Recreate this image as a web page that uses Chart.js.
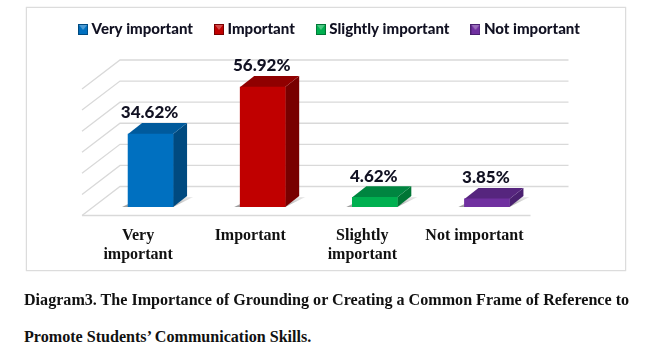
<!DOCTYPE html>
<html>
<head>
<meta charset="utf-8">
<script src="https://cdn.jsdelivr.net/npm/chart.js@4/dist/chart.umd.min.js"></script>
<style>
    html, body { margin: 0; padding: 0; background: #fff; }
    #frame { position: absolute; left: 26px; top: 7px; width: 598px; height: 262px; border: 1px solid #dcdcdc; box-shadow: 0 0 1px #ccc; }
    #chart { position: absolute; left: 0; top: 0; }
    .caption { position: absolute; left: 24px; font: bold 16.1px "Liberation Serif", serif; color: #111; white-space: nowrap; }
    #cap1 { top: 291px; }
    #cap2 { top: 328px; }
</style>
</head>
<body>
<div id="frame"></div>
<canvas id="chart" width="651" height="300"></canvas>
<div class="caption" id="cap1">Diagram3. The Importance of Grounding or Creating a Common Frame of Reference to</div>
<div class="caption" id="cap2">Promote Students’ Communication Skills.</div>
<script>
const legendNames = ["Very important", "Important", "Slightly important", "Not important"];
const axisLabels = [["Very", "important"], "Important", ["Slightly", "important"], "Not important"];
const percentValues = [34.62, 56.92, 4.62, 3.85];
const frontColors = ["#0070c0", "#c00000", "#00b050", "#7030a0"];
const sideColors = ["#004a80", "#780000", "#007535", "#4a2070"];
const topColors = ["#005a9c", "#900000", "#008540", "#56257e"];
const gridValues = [0, 10, 20, 30, 40, 50, 60];

// 3d look
const DEPTH_X = 14, DEPTH_Y = 11;     // bar depth
const BACK_X = 25.5, BACK_Y = 20.5;   // from the bar plane to the back wall
const FRONT_X = 12.5, FRONT_Y = 8.5;  // from the bar plane to the floor edge

function poly(ctx, pts, color) {
    ctx.fillStyle = color;
    ctx.beginPath();
    pts.forEach(function (p, i) {
        if (i === 0) ctx.moveTo(p[0], p[1]); else ctx.lineTo(p[0], p[1]);
    });
    ctx.closePath();
    ctx.fill();
}

// little legend square with the lighter triangle
function makeSwatch(front, side) {
    const c = document.createElement("canvas");
    c.width = 10;
    c.height = 11;
    const g = c.getContext("2d");
    g.fillStyle = side;
    g.fillRect(0, 0, 10, 11);
    g.fillStyle = front;
    g.fillRect(1, 1, 8, 9);
    poly(g, [[1, 1], [9, 1], [5, 6]], "rgba(255,255,255,0.3)");
    return c;
}

const wallPlugin = {
    id: "wall",
    afterLayout: function (chart) {
        // legend is centered on the frame, not on the canvas
        const lg = chart.legend;
        lg.left += 5.5;
        lg.right += 5.5;
        lg.top -= 33.5;
        lg.bottom -= 33.5;
    },
    beforeDatasetsDraw: function (chart) {
        const ctx = chart.ctx, y = chart.scales.y, area = chart.chartArea;
        ctx.save();
        ctx.strokeStyle = "#d9d9d9";
        ctx.lineWidth = 1.3;
        gridValues.forEach(function (v) {
            const py = y.getPixelForValue(v);
            ctx.beginPath();
            ctx.moveTo(area.left - FRONT_X, py + FRONT_Y);
            ctx.lineTo(area.left + BACK_X, py - BACK_Y);
            ctx.lineTo(area.right + BACK_X, py - BACK_Y);
            ctx.stroke();
        });
        const floor = y.getPixelForValue(0) + FRONT_Y;
        ctx.beginPath();
        ctx.moveTo(area.left - FRONT_X, floor);
        ctx.lineTo(area.right - FRONT_X, floor);
        ctx.stroke();

        // bar shadows and sides
        chart.getDatasetMeta(0).data.forEach(function (bar, i) {
            const l = bar.x - bar.width / 2, r = bar.x + bar.width / 2, b = bar.base, t = bar.y;
            const shadow = ctx.createLinearGradient(0, b, 0, b - DEPTH_Y);
            shadow.addColorStop(0, "rgba(120,120,120,0.75)");
            shadow.addColorStop(1, "rgba(190,190,190,0.25)");
            poly(ctx, [[l - 6, b], [r, b], [r + DEPTH_X + 6, b - DEPTH_Y + 1], [l + DEPTH_X, b - DEPTH_Y + 1]], shadow);
            poly(ctx, [[r, t], [r + DEPTH_X, t - DEPTH_Y], [r + DEPTH_X, b - DEPTH_Y], [r, b]], sideColors[i]);
            poly(ctx, [[l, t], [l + DEPTH_X, t - DEPTH_Y], [r + DEPTH_X, t - DEPTH_Y], [r, t]], topColors[i]);
        });
        ctx.restore();
    },
    afterDatasetsDraw: function (chart) {
        const ctx = chart.ctx;
        ctx.save();
        ctx.font = "900 17px Lato";
        ctx.fillStyle = "#111122";
        ctx.textAlign = "center";
        ctx.textBaseline = "middle";
        chart.getDatasetMeta(0).data.forEach(function (bar, i) {
            ctx.fillText(percentValues[i].toFixed(2) + "%", bar.x - 1, bar.y - 21);
        });
        ctx.restore();
    }
};

new Chart(document.getElementById("chart").getContext("2d"), {
    type: "bar",
    data: {
        labels: axisLabels,
        datasets: [{
            data: percentValues,
            backgroundColor: frontColors,
            barThickness: 45,
            borderWidth: 0
        }]
    },
    plugins: [wallPlugin],
    options: {
        responsive: false,
        animation: false,
        devicePixelRatio: 1,
        layout: { padding: { top: 30.5, bottom: 0 } },
        scales: {
            y: {
                min: 0,
                max: 60,
                grid: { display: false },
                border: { display: false },
                ticks: { display: false },
                afterFit: function (scale) { scale.width = 94.5; }
            },
            // empty axis, only keeps the plot off the right side
            yRight: {
                position: "right",
                grid: { display: false },
                border: { display: false },
                ticks: { display: false },
                afterFit: function (scale) { scale.width = 108; }
            },
            x: {
                grid: { display: false },
                border: { display: false },
                afterFit: function (scale) { scale.height = 93; },
                ticks: {
                    labelOffset: -12.5,
                    padding: 11,
                    maxRotation: 0,
                    autoSkip: false,
                    color: "#111",
                    font: { family: "Liberation Serif", weight: "bold", size: 16, lineHeight: 1.19 }
                }
            }
        },
        plugins: {
            tooltip: { enabled: false },
            legend: {
                position: "top",
                padding: 0,
                labels: {
                    color: "#111122",
                    padding: 25,
                    usePointStyle: true,
                    pointStyleWidth: 2,
                    font: { family: "Lato", weight: "900", size: 15 },
                    generateLabels: function () {
                        return legendNames.map(function (name, i) {
                            return {
                                text: name,
                                pointStyle: makeSwatch(frontColors[i], sideColors[i]),
                                lineWidth: 0,
                                strokeStyle: "transparent",
                                fontColor: "#111122",
                                index: i
                            };
                        });
                    }
                }
            }
        }
    }
});
</script>
</body>
</html>
